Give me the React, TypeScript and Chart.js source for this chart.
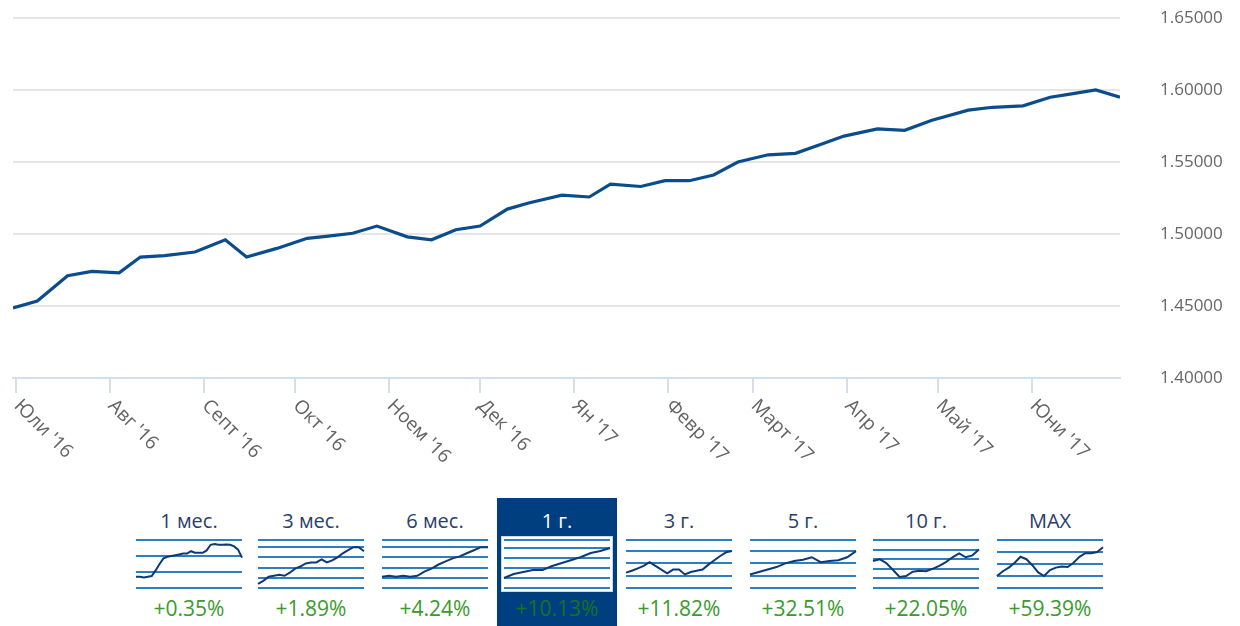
import React, { useEffect, useRef } from "react";
import { Chart, registerables } from "chart.js";

Chart.register(...registerables);

// ---- main chart data ----
const monthLabels = ["Юли '16", "Авг '16", "Септ '16", "Окт '16", "Ноем '16", "Дек '16", "Ян '17", "Февр '17", "Март '17", "Апр '17", "Май '17", "Юни '17"];
const monthDays = [0, 31, 62, 92, 123, 153, 184, 215, 243, 274, 304, 335];
const yTickValues = [1.4, 1.45, 1.5, 1.55, 1.6, 1.65];

// days since 1 Jul 2016
const seriesDays = [-1, 7, 17, 25, 34, 41, 49, 59, 69, 76, 86, 96, 103, 111, 119, 129, 137, 145, 153, 162, 169, 180, 189, 196, 206, 214, 222, 230, 238, 248, 257, 265, 273, 284, 293, 302, 314, 322, 332, 341, 347, 356, 364];
const seriesValues = [1.4486, 1.4535, 1.471, 1.474, 1.473, 1.484, 1.485, 1.4875, 1.496, 1.484, 1.49, 1.497, 1.4985, 1.5005, 1.5055, 1.498, 1.496, 1.503, 1.5055, 1.5173, 1.5215, 1.527, 1.5257, 1.5347, 1.533, 1.537, 1.537, 1.541, 1.55, 1.555, 1.556, 1.562, 1.568, 1.573, 1.572, 1.579, 1.586, 1.588, 1.589, 1.595, 1.597, 1.6, 1.595];

// ---- period selector data ----
const periodLabels = ["1 мес.", "3 мес.", "6 мес.", "1 г.", "3 г.", "5 г.", "10 г.", "MAX"];
const periodChanges = ["+0.35%", "+1.89%", "+4.24%", "+10.13%", "+11.82%", "+32.51%", "+22.05%", "+59.39%"];
const selectedPeriod = 3;

const spark1m = [0.7, 0.7, 0.65, 0.7, 0.75, 1.1, 1.5, 1.85, 1.95, 2.0, 2.05, 2.1, 2.15, 2.15, 2.3, 2.2, 2.2, 2.2, 2.35, 2.7, 2.75, 2.7, 2.7, 2.72, 2.7, 2.6, 2.4, 1.9];
const spark3m = [0.4, 0.7, 1.1, 1.2, 1.3, 1.2, 1.5, 1.9, 2.1, 2.4, 2.5, 2.5, 2.8, 2.5, 2.7, 3.0, 3.4, 3.7, 4.0, 4.0, 3.6];
const spark6m = [1.1, 1.2, 1.1, 1.2, 1.1, 1.2, 1.6, 1.9, 2.3, 2.6, 2.9, 3.1, 3.4, 3.7, 4.0, 4.0];
const spark1y = [1.0, 1.4, 1.6, 1.8, 1.8, 2.2, 2.5, 2.8, 3.1, 3.5, 3.7, 4.0];
const spark3y = [1.25, 1.4, 1.6, 1.8, 2.1, 1.8, 1.5, 1.2, 1.5, 1.5, 1.1, 1.3, 1.4, 1.5, 1.9, 2.25, 2.6, 2.9, 3.0];
const spark5y = [1.1, 1.3, 1.5, 1.7, 2.0, 2.2, 2.3, 2.5, 2.1, 2.2, 2.25, 2.5, 3.0];
const spark10y = [2.8, 3.0, 2.6, 1.9, 1.15, 1.25, 1.7, 1.8, 1.75, 2.0, 2.3, 2.7, 3.2, 3.6, 3.2, 3.4, 4.0];
const sparkMax = [1.0, 1.4, 1.7, 2.1, 2.6, 2.4, 1.9, 1.3, 1.0, 1.5, 1.7, 1.8, 1.75, 2.1, 2.6, 2.9, 2.9, 3.0, 3.4];
const sparkSeries = [spark1m, spark3m, spark6m, spark1y, spark3y, spark5y, spark10y, sparkMax];

const sparkGrid1m = [0, 1, 2, 3];
const sparkGrid3m = [0, 1, 2, 3, 4, 4.7];
const sparkGrid6m = [0, 1, 2, 3, 4, 4.7];
const sparkGrid1y = [0, 1, 2, 3, 4, 4.8];
const sparkGrid3y = [0, 1, 2, 3, 3.9];
const sparkGrid5y = [0, 1, 2, 3, 3.9];
const sparkGrid10y = [0, 1, 2, 3, 4, 5];
const sparkGridMax = [0, 1, 2, 3, 4];
const sparkGrids = [sparkGrid1m, sparkGrid3m, sparkGrid6m, sparkGrid1y, sparkGrid3y, sparkGrid5y, sparkGrid10y, sparkGridMax];

const FONT = "'Open Sans', 'Noto Sans', sans-serif";

const xLabelPlugin = {
  id: "slantedLabels",
  afterDraw(chart: any) {
    const xs = chart.scales.x;
    const ctx = chart.ctx;
    const bottom = chart.chartArea.bottom;
    ctx.save();
    ctx.font = `19px ${FONT}`;
    ctx.fillStyle = "#636363";
    ctx.textAlign = "left";
    ctx.textBaseline = "middle";
    monthDays.forEach((d, i) => {
      const px = xs.getPixelForValue(d);
      ctx.save();
      ctx.translate(px + 1, bottom + 25);
      ctx.rotate(Math.PI / 4);
      ctx.fillText(monthLabels[i], 0, 0);
      ctx.restore();
    });
    ctx.restore();
  },
};

function MainChart() {
  const ref = useRef<HTMLCanvasElement | null>(null);
  useEffect(() => {
    if (!ref.current) return;
    const chart = new Chart(ref.current, {
      type: "line",
      data: {
        datasets: [
          {
            data: seriesDays.map((d, i) => ({ x: d, y: seriesValues[i] })),
            borderColor: "#0b4d8c",
            borderWidth: 3.2,
            pointRadius: 0,
            tension: 0,
            fill: false,
          },
        ],
      },
      options: {
        responsive: false,
        animation: false,
        events: [],
        layout: { padding: { left: 13, right: 0, top: 18, bottom: 0 } },
        plugins: { legend: { display: false }, tooltip: { enabled: false } },
        scales: {
          x: {
            type: "linear",
            min: -1,
            max: 364,
            afterBuildTicks: (scale: any) => {
              scale.ticks = monthDays.map((v) => ({ value: v }));
            },
            afterFit: (scale: any) => {
              scale.height = 102;
            },
            ticks: { display: false },
            grid: {
              drawOnChartArea: false,
              drawTicks: true,
              tickLength: 15,
              color: "#d3e0ec",
              lineWidth: 2,
            },
            border: { display: true, color: "#d3e0ec", width: 2 },
          },
          y: {
            position: "right",
            min: 1.4,
            max: 1.65,
            afterBuildTicks: (scale: any) => {
              scale.ticks = yTickValues.map((v) => ({ value: v }));
            },
            afterFit: (scale: any) => {
              scale.width = 120;
            },
            ticks: {
              padding: 2,
              color: "#666666",
              font: { family: FONT, size: 17 },
              callback: (v: any) => Number(v).toFixed(5),
            },
            grid: {
              drawTicks: true,
              tickLength: 38,
              tickColor: "rgba(0,0,0,0)",
              color: "#e6e6e6",
              lineWidth: 2,
            },
            border: { display: false },
          },
        },
      },
      plugins: [xLabelPlugin],
    } as any);
    return () => chart.destroy();
  }, []);
  return <canvas ref={ref} width={1240} height={480} style={{ position: "absolute", left: 0, top: 0 }} />;
}

function Spark({ values, grid, left }: { values: number[]; grid: number[]; left: number }) {
  const ref = useRef<HTMLCanvasElement | null>(null);
  useEffect(() => {
    if (!ref.current) return;
    const chart = new Chart(ref.current, {
      type: "line",
      data: {
        labels: values.map((_, i) => i),
        datasets: [
          {
            data: values,
            borderColor: "#0c3a78",
            borderWidth: 2,
            pointRadius: 0,
            tension: 0,
            fill: false,
          },
        ],
      },
      options: {
        responsive: false,
        animation: false,
        events: [],
        layout: { padding: 2 },
        plugins: { legend: { display: false }, tooltip: { enabled: false } },
        scales: {
          x: { display: false, offset: false },
          y: {
            min: 0,
            max: grid[grid.length - 1],
            afterBuildTicks: (scale: any) => {
              scale.ticks = grid.map((v) => ({ value: v }));
            },
            afterFit: (scale: any) => {
              scale.width = 0;
            },
            ticks: { display: false },
            grid: { drawTicks: false, color: "#2f7ec0", lineWidth: 2 },
            border: { display: false },
          },
        },
      },
    } as any);
    return () => chart.destroy();
  }, []);
  return (
    <canvas
      ref={ref}
      width={110}
      height={52}
      style={{ position: "absolute", left: left - 2, top: 538 }}
    />
  );
}

const boxLefts = [136, 258, 382, 504, 626, 750, 873, 997];

export default function App() {
  return (
    <div
      style={{
        position: "absolute",
        left: 0,
        top: 0,
        width: 1240,
        height: 626,
        background: "#ffffff",
        overflow: "hidden",
        fontFamily: FONT,
      }}
    >
      <MainChart />
      <div
        style={{
          position: "absolute",
          left: 497,
          top: 498,
          width: 120,
          height: 130,
          background: "#003f7f",
        }}
      />
      <div
        style={{
          position: "absolute",
          left: 501,
          top: 536,
          width: 112,
          height: 56,
          background: "#ffffff",
          boxSizing: "border-box",
          border: "1px solid #c9d8e8",
        }}
      />
      {periodLabels.map((lab, i) => {
        const left = boxLefts[i];
        const sel = i === selectedPeriod;
        return (
          <React.Fragment key={lab}>
            <div
              style={{
                position: "absolute",
                left: left - 10,
                width: 126,
                top: 507,
                height: 28,
                lineHeight: "28px",
                textAlign: "center",
                fontSize: 20,
                color: sel ? "#ffffff" : "#2b3d6d",
              }}
            >
              {lab}
            </div>
            <Spark values={sparkSeries[i]} grid={sparkGrids[i]} left={left} />
            <div
              style={{
                position: "absolute",
                left: left - 10,
                width: 126,
                top: 594,
                height: 28,
                lineHeight: "28px",
                textAlign: "center",
                fontSize: 21,
                color: sel ? "#167227" : "#3a9a2c",
              }}
            >
              {periodChanges[i]}
            </div>
          </React.Fragment>
        );
      })}
    </div>
  );
}
